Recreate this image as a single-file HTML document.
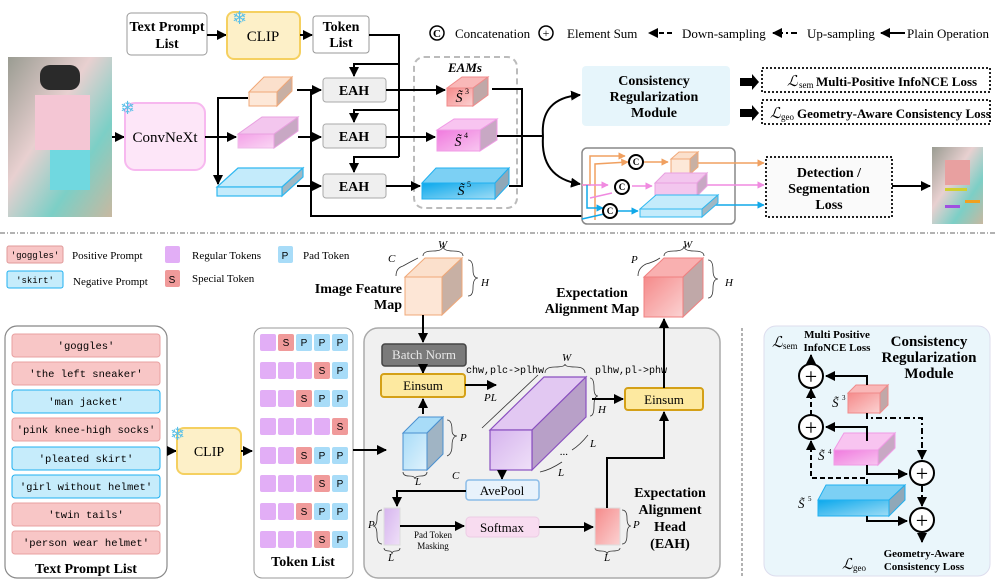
<!DOCTYPE html>
<html><head><meta charset="utf-8"><style>
html,body{margin:0;padding:0;background:#fff;}
svg{display:block;font-family:"Liberation Serif",serif;}
.b{font-weight:bold;}
.m{font-family:"Liberation Mono",monospace;}
</style></head><body>
<svg width="997" height="584" viewBox="0 0 997 584" xmlns="http://www.w3.org/2000/svg">
<defs>
<marker id="a" viewBox="0 0 10 10" refX="9" refY="5" markerWidth="5" markerHeight="5" orient="auto"><path d="M0,0L10,5L0,10z" fill="#000"/></marker>
<marker id="ao" viewBox="0 0 10 10" refX="9" refY="5" markerWidth="5" markerHeight="5" orient="auto"><path d="M0,0L10,5L0,10z" fill="#f0a060"/></marker>
<marker id="ap" viewBox="0 0 10 10" refX="9" refY="5" markerWidth="5" markerHeight="5" orient="auto"><path d="M0,0L10,5L0,10z" fill="#f08ae0"/></marker>
<marker id="ab" viewBox="0 0 10 10" refX="9" refY="5" markerWidth="5" markerHeight="5" orient="auto"><path d="M0,0L10,5L0,10z" fill="#10a8e8"/></marker>
<linearGradient id="photo" x1="0" y1="0" x2="1" y2="1"><stop offset="0" stop-color="#9a9c92"/><stop offset="0.4" stop-color="#e8d0d0"/><stop offset="0.7" stop-color="#7ccfc6"/><stop offset="1" stop-color="#c8b8a0"/></linearGradient>
<linearGradient id="gb" x1="0" y1="0" x2="1" y2="1"><stop offset="0" stop-color="#0aa8ec"/><stop offset="1" stop-color="#9fdcf5"/></linearGradient>
<linearGradient id="gp" x1="0" y1="0" x2="1" y2="1"><stop offset="0" stop-color="#f07ade"/><stop offset="1" stop-color="#f8c6f0"/></linearGradient>
<linearGradient id="gr" x1="0" y1="0" x2="1" y2="1"><stop offset="0" stop-color="#f58a8a"/><stop offset="1" stop-color="#fbd2d2"/></linearGradient>
<linearGradient id="gv" x1="0" y1="0" x2="1" y2="1"><stop offset="0" stop-color="#d6b4ee"/><stop offset="1" stop-color="#efe0f8"/></linearGradient>
<linearGradient id="glb" x1="0" y1="0" x2="1" y2="1"><stop offset="0" stop-color="#a8dcf8"/><stop offset="1" stop-color="#e0f2fc"/></linearGradient>
</defs>

<!-- ================= TOP ================= -->
<rect x="8" y="57" width="104" height="160" fill="url(#photo)"/>
<rect x="40" y="65" width="40" height="25" rx="10" fill="#2a2a2a"/>
<rect x="35" y="95" width="55" height="55" fill="#f4c6d4"/>
<rect x="50" y="150" width="40" height="40" fill="#70d8e0"/>

<rect x="127" y="13" width="80" height="42" rx="4" fill="#fff" stroke="#999"/>
<text x="167" y="31" font-size="14" class="b" text-anchor="middle">Text Prompt</text>
<text x="167" y="48" font-size="14" class="b" text-anchor="middle">List</text>
<line x1="207" y1="35" x2="226" y2="35" stroke="#000" stroke-width="2" marker-end="url(#a)"/>
<rect x="227" y="12" width="73" height="47" rx="7" fill="#fdf0c8" stroke="#f5d060" stroke-width="2"/>
<text x="263" y="41" font-size="15" text-anchor="middle">CLIP</text>
<text x="232" y="24" font-size="18" fill="#5bc0e8">❄</text>
<line x1="300" y1="35" x2="312" y2="35" stroke="#000" stroke-width="2" marker-end="url(#a)"/>
<rect x="313" y="16" width="56" height="37" rx="3" fill="#fff" stroke="#999"/>
<text x="341" y="31" font-size="14" class="b" text-anchor="middle">Token</text>
<text x="341" y="47" font-size="14" class="b" text-anchor="middle">List</text>
<!-- token list routing -->
<polyline points="369,35 399,35 399,157" fill="none" stroke="#000" stroke-width="2"/>
<polyline points="399,64 354,64 354,76" fill="none" stroke="#000" stroke-width="2" marker-end="url(#a)"/>
<polyline points="399,110 354,110 354,122" fill="none" stroke="#000" stroke-width="2" marker-end="url(#a)"/>
<polyline points="399,157 354,157 354,172" fill="none" stroke="#000" stroke-width="2" marker-end="url(#a)"/>

<line x1="112" y1="137" x2="124" y2="137" stroke="#000" stroke-width="2" marker-end="url(#a)"/>
<rect x="125" y="103" width="80" height="67" rx="10" fill="#fde6f8" stroke="#f7b8ef" stroke-width="2"/>
<text x="165" y="142" font-size="15" text-anchor="middle">ConvNeXt</text>
<text x="120" y="114" font-size="18" fill="#5bc0e8">❄</text>
<line x1="205" y1="137" x2="236" y2="137" stroke="#000" stroke-width="2" marker-end="url(#a)"/>
<polyline points="248,98 218,98 218,184" fill="none" stroke="#000" stroke-width="2" marker-end="url(#a)"/>

<!-- feature cubes -->
<g stroke="#f0a878" stroke-width="1"><polygon points="249,92 264,77 292,77 277,92" fill="#fbe0cc"/><polygon points="277,92 292,77 292,91 277,106" fill="#c8b0a4"/><rect x="249" y="92" width="28" height="14" fill="#fde8d8"/></g>
<g stroke="#e8a0e0" stroke-width="1"><polygon points="238,134 262,117 298,117 274,134" fill="#f3c6ee"/><polygon points="274,134 298,117 298,131 274,148" fill="#c8a8c4"/><rect x="238" y="134" width="36" height="14" fill="url(#gp)" opacity="0.7"/></g>
<g stroke="#30b8f0" stroke-width="1.2"><polygon points="217,187 238,168 303,168 282,187" fill="#c4ebfb"/><polygon points="282,187 303,168 303,177 282,196" fill="#a0b8c4"/><rect x="217" y="187" width="65" height="9" fill="#c4ebfb"/></g>

<!-- to EAH -->
<line x1="297" y1="90" x2="321" y2="90" stroke="#000" stroke-width="2" marker-end="url(#a)"/>
<line x1="298" y1="137" x2="321" y2="137" stroke="#000" stroke-width="2" marker-end="url(#a)"/>
<line x1="297" y1="186" x2="321" y2="186" stroke="#000" stroke-width="2" marker-end="url(#a)"/>
<polyline points="311,90 311,216 582,216" fill="none" stroke="#000" stroke-width="2"/>

<g fill="#efefef" stroke="#aaa"><rect x="323" y="78" width="63" height="24" rx="3"/><rect x="323" y="124" width="63" height="24" rx="3"/><rect x="323" y="174" width="63" height="24" rx="3"/></g>
<g font-size="14" class="b" text-anchor="middle"><text x="354" y="95">EAH</text><text x="354" y="141">EAH</text><text x="354" y="191">EAH</text></g>

<rect x="414" y="57" width="103" height="151" rx="10" fill="none" stroke="#bbb" stroke-width="2" stroke-dasharray="6,4"/>
<text x="465" y="72" font-size="13" class="b" font-style="italic" text-anchor="middle">EAMs</text>
<line x1="386" y1="90" x2="445" y2="90" stroke="#000" stroke-width="2" marker-end="url(#a)"/>
<line x1="386" y1="137" x2="435" y2="137" stroke="#000" stroke-width="2" marker-end="url(#a)"/>
<line x1="386" y1="186" x2="420" y2="186" stroke="#000" stroke-width="2" marker-end="url(#a)"/>
<!-- S cubes -->
<g stroke="#f08a8a"><polygon points="447,88 462,77 488,77 473,88" fill="#f9b8b8"/><polygon points="473,88 488,77 488,95 473,106" fill="#c0a8a8"/><rect x="447" y="88" width="26" height="18" fill="url(#gr)"/></g>
<g stroke="#f09ae6"><polygon points="437,130 454,119 497,119 480,130" fill="#f8c4f0"/><polygon points="480,130 497,119 497,140 480,151" fill="#c8a8c4"/><rect x="437" y="130" width="43" height="21" fill="url(#gp)"/></g>
<g stroke="#20b0f0"><polygon points="422,183 436,168 509,168 495,183" fill="#7cd0f4"/><polygon points="495,183 509,168 509,184 495,199" fill="#90a8b8"/><rect x="422" y="183" width="73" height="16" fill="url(#gb)"/></g>
<g font-size="14" font-style="italic" text-anchor="middle"><text x="459" y="102">S̃</text><text x="458" y="146">S̃</text><text x="461" y="195">S̃</text></g>
<g font-size="8"><text x="465" y="94">3</text><text x="464" y="138">4</text><text x="467" y="187">5</text></g>

<polyline points="492,89 522,89 522,186 509,186" fill="none" stroke="#000" stroke-width="2"/>
<line x1="497" y1="136" x2="543" y2="136" stroke="#000" stroke-width="2"/>
<path d="M543,136 Q540,98 580,95" fill="none" stroke="#000" stroke-width="2" marker-end="url(#a)"/>
<path d="M543,136 Q540,178 580,184" fill="none" stroke="#000" stroke-width="2" marker-end="url(#a)"/>

<rect x="582" y="66" width="148" height="60" rx="4" fill="#e6f5fb"/>
<g font-size="14" class="b" text-anchor="middle"><text x="654" y="85">Consistency</text><text x="654" y="101">Regularization</text><text x="654" y="117">Module</text></g>

<polygon points="740,78 752,78 752,74 759,82 752,90 752,86 740,86" fill="#000"/>
<polygon points="740,109 752,109 752,105 759,113 752,121 752,117 740,117" fill="#000"/>
<rect x="762" y="68" width="228" height="24" fill="none" stroke="#222" stroke-width="2" stroke-dasharray="2,2"/>
<rect x="762" y="100" width="228" height="24" fill="none" stroke="#222" stroke-width="2" stroke-dasharray="2,2"/>
<text x="787" y="86" font-size="15" font-style="italic">ℒ</text><text x="799" y="88" font-size="9">sem</text>
<text x="816" y="86" font-size="13" class="b">Multi-Positive InfoNCE Loss</text>
<text x="770" y="118" font-size="15" font-style="italic">ℒ</text><text x="781" y="120" font-size="9">geo</text>
<text x="797" y="118" font-size="13" class="b">Geometry-Aware Consistency Loss</text>

<!-- bottom-right fusion box -->
<rect x="582" y="148" width="153" height="76" rx="5" fill="#fff" stroke="#888" stroke-width="1.5"/>
<g fill="none" stroke-width="1.5">
<polyline points="582,185 590,185 590,156 625,156" stroke="#f0a060" marker-end="url(#ao)"/>
<polyline points="595,220 595,164 628,162" stroke="#f0a060" marker-end="url(#ao)"/>
<line x1="582" y1="185" x2="608" y2="185" stroke="#f08ae0" marker-end="url(#ap)"/>
<polyline points="590,198 612,193" stroke="#f08ae0"/>
<polyline points="587,185 587,208 603,208" stroke="#10a8e8" marker-end="url(#ab)"/>
<line x1="582" y1="219" x2="604" y2="214" stroke="#10a8e8"/>
<line x1="644" y1="162" x2="668" y2="162" stroke="#f0a060" marker-end="url(#ao)"/>
<line x1="632" y1="186" x2="652" y2="186" stroke="#f08ae0" marker-end="url(#ap)"/>
<line x1="617" y1="211" x2="638" y2="211" stroke="#10a8e8" marker-end="url(#ab)"/>
<line x1="698" y1="163" x2="764" y2="163" stroke="#f0a060" marker-end="url(#ao)"/>
<line x1="707" y1="185" x2="764" y2="185" stroke="#f08ae0" marker-end="url(#ap)"/>
<line x1="712" y1="205" x2="764" y2="205" stroke="#10a8e8" marker-end="url(#ab)"/>
</g>
<g stroke="#000" stroke-width="2" fill="#fff"><circle cx="636" cy="162" r="7"/><circle cx="622" cy="187" r="7"/><circle cx="610" cy="211" r="7"/></g>
<g font-size="9" class="b" text-anchor="middle"><text x="636" y="165">C</text><text x="622" y="190">C</text><text x="610" y="214">C</text></g>
<g stroke="#f0a878"><polygon points="671,159 679,152 698,152 690,159" fill="#fbe0cc"/><polygon points="690,159 698,152 698,167 690,174" fill="#c8b0a4"/><rect x="671" y="159" width="19" height="15" fill="#fde8d8"/></g>
<g stroke="#e8a0e0"><polygon points="655,183 665,173 707,173 697,183" fill="#f3c6ee"/><polygon points="697,183 707,173 707,186 697,196" fill="#c8a8c4"/><rect x="655" y="183" width="42" height="13" fill="#f3c6ee"/></g>
<g stroke="#30b8f0"><polygon points="640,209 656,195 718,195 702,209" fill="#c4ebfb"/><polygon points="702,209 718,195 718,203 702,217" fill="#a0b8c4"/><rect x="640" y="209" width="62" height="8" fill="#c4ebfb"/></g>

<rect x="766" y="157" width="126" height="60" fill="#fafafa" stroke="#222" stroke-width="2" stroke-dasharray="2,2"/>
<g font-size="14" class="b" text-anchor="middle"><text x="829" y="177">Detection /</text><text x="829" y="193">Segmentation</text><text x="829" y="209">Loss</text></g>
<line x1="892" y1="186" x2="930" y2="186" stroke="#000" stroke-width="2" marker-end="url(#a)"/>
<rect x="932" y="147" width="51" height="77" fill="url(#photo)"/>
<rect x="945" y="160" width="25" height="25" fill="#e8a0a0"/>
<rect x="945" y="188" width="22" height="3" fill="#d0d030"/>
<rect x="945" y="205" width="15" height="3" fill="#a050e0"/>
<rect x="965" y="200" width="15" height="3" fill="#f0a020"/>

<!-- legend top -->
<g stroke="#000" stroke-width="1.5" fill="#fff"><circle cx="437" cy="33" r="7"/><circle cx="546" cy="33" r="7"/></g>
<text x="437" y="37" font-size="11" class="b" text-anchor="middle">C</text>
<text x="546" y="37" font-size="12" text-anchor="middle">+</text>
<g font-size="13"><text x="455" y="38">Concatenation</text><text x="567" y="38">Element Sum</text><text x="682" y="38">Down-sampling</text><text x="807" y="38">Up-sampling</text><text x="907" y="38">Plain Operation</text></g>
<line x1="672" y1="33" x2="649" y2="33" stroke="#000" stroke-width="2" stroke-dasharray="5,3" marker-end="url(#a)"/>
<line x1="797" y1="33" x2="773" y2="33" stroke="#000" stroke-width="2" stroke-dasharray="6,3,2,3" marker-end="url(#a)"/>
<line x1="905" y1="33" x2="881" y2="33" stroke="#000" stroke-width="2" marker-end="url(#a)"/>

<line x1="0" y1="233" x2="997" y2="233" stroke="#666" stroke-width="1" stroke-dasharray="5,2,1,2"/>

<!-- ================= BOTTOM LEFT ================= -->
<rect x="7" y="246" width="56" height="17" rx="2" fill="#f8c6c6" stroke="#e09a9a"/>
<text x="35" y="258" font-size="9" class="m" text-anchor="middle">'goggles'</text>
<text x="72" y="259" font-size="11">Positive Prompt</text>
<rect x="7" y="271" width="56" height="17" rx="2" fill="#c6ecfb" stroke="#20b0f0"/>
<text x="35" y="283" font-size="9" class="m" text-anchor="middle">'skirt'</text>
<text x="73" y="285" font-size="11">Negative Prompt</text>
<rect x="165" y="246" width="15" height="17" rx="2" fill="#e2aef6"/>
<text x="192" y="259" font-size="11">Regular Tokens</text>
<rect x="165" y="270" width="15" height="17" rx="2" fill="#f09a9a"/>
<text x="172" y="283" font-size="10" font-family="Liberation Sans" text-anchor="middle">S</text>
<text x="192" y="282" font-size="11">Special Token</text>
<rect x="278" y="246" width="15" height="17" rx="2" fill="#a8dcf8"/>
<text x="285" y="259" font-size="10" font-family="Liberation Sans" text-anchor="middle">P</text>
<text x="303" y="259" font-size="11">Pad Token</text>

<rect x="5" y="326" width="162" height="252" rx="12" fill="#fff" stroke="#888" stroke-width="1.2"/>
<g stroke-width="1">
<rect x="12" y="334" width="148" height="23" rx="3" fill="#f8c6c6" stroke="#e8a0a0"/>
<rect x="12" y="362" width="148" height="23" rx="3" fill="#f8c6c6" stroke="#e8a0a0"/>
<rect x="12" y="390" width="148" height="23" rx="3" fill="#c6ecfb" stroke="#20b0f0"/>
<rect x="12" y="418" width="148" height="23" rx="3" fill="#f8c6c6" stroke="#e8a0a0"/>
<rect x="12" y="447" width="148" height="23" rx="3" fill="#c6ecfb" stroke="#20b0f0"/>
<rect x="12" y="475" width="148" height="23" rx="3" fill="#c6ecfb" stroke="#20b0f0"/>
<rect x="12" y="503" width="148" height="23" rx="3" fill="#f8c6c6" stroke="#e8a0a0"/>
<rect x="12" y="531" width="148" height="23" rx="3" fill="#f8c6c6" stroke="#e8a0a0"/>
</g>
<g font-size="10.5" class="m" text-anchor="middle">
<text x="86" y="349">'goggles'</text><text x="86" y="377">'the left sneaker'</text><text x="86" y="405">'man jacket'</text><text x="86" y="433">'pink knee-high socks'</text><text x="86" y="462">'pleated skirt'</text><text x="86" y="490">'girl without helmet'</text><text x="86" y="518">'twin tails'</text><text x="86" y="546">'person wear helmet'</text>
</g>
<text x="86" y="573" font-size="14" class="b" text-anchor="middle">Text Prompt List</text>
<line x1="168" y1="451" x2="176" y2="451" stroke="#000" stroke-width="2" marker-end="url(#a)"/>
<rect x="177" y="428" width="64" height="46" rx="7" fill="#fdf0c8" stroke="#f5d060" stroke-width="2"/>
<text x="209" y="456" font-size="14" text-anchor="middle">CLIP</text>
<text x="170" y="440" font-size="18" fill="#5bc0e8">❄</text>
<line x1="241" y1="451" x2="252" y2="451" stroke="#000" stroke-width="2" marker-end="url(#a)"/>

<rect x="254" y="328" width="99" height="250" rx="8" fill="#fff" stroke="#999"/>
<g font-size="10" font-family="Liberation Sans" text-anchor="middle">
<!-- rows: tokens -->
<g fill="#e2aef6">
<rect x="260" y="334" width="16" height="17" rx="2"/>
<rect x="260" y="362" width="16" height="17" rx="2"/><rect x="278" y="362" width="16" height="17" rx="2"/><rect x="296" y="362" width="16" height="17" rx="2"/>
<rect x="260" y="390" width="16" height="17" rx="2"/><rect x="278" y="390" width="16" height="17" rx="2"/>
<rect x="260" y="418" width="16" height="17" rx="2"/><rect x="278" y="418" width="16" height="17" rx="2"/><rect x="296" y="418" width="16" height="17" rx="2"/><rect x="314" y="418" width="16" height="17" rx="2"/>
<rect x="260" y="447" width="16" height="17" rx="2"/><rect x="278" y="447" width="16" height="17" rx="2"/>
<rect x="260" y="475" width="16" height="17" rx="2"/><rect x="278" y="475" width="16" height="17" rx="2"/><rect x="296" y="475" width="16" height="17" rx="2"/>
<rect x="260" y="503" width="16" height="17" rx="2"/><rect x="278" y="503" width="16" height="17" rx="2"/>
<rect x="260" y="531" width="16" height="17" rx="2"/><rect x="278" y="531" width="16" height="17" rx="2"/><rect x="296" y="531" width="16" height="17" rx="2"/>
</g>
<g fill="#f09a9a">
<rect x="278" y="334" width="16" height="17" rx="2"/><rect x="314" y="362" width="16" height="17" rx="2"/><rect x="296" y="390" width="16" height="17" rx="2"/><rect x="332" y="418" width="16" height="17" rx="2"/><rect x="296" y="447" width="16" height="17" rx="2"/><rect x="314" y="475" width="16" height="17" rx="2"/><rect x="296" y="503" width="16" height="17" rx="2"/><rect x="314" y="531" width="16" height="17" rx="2"/>
</g>
<g fill="#a8dcf8">
<rect x="296" y="334" width="16" height="17" rx="2"/><rect x="314" y="334" width="16" height="17" rx="2"/><rect x="332" y="334" width="16" height="17" rx="2"/>
<rect x="332" y="362" width="16" height="17" rx="2"/>
<rect x="314" y="390" width="16" height="17" rx="2"/><rect x="332" y="390" width="16" height="17" rx="2"/>
<rect x="314" y="447" width="16" height="17" rx="2"/><rect x="332" y="447" width="16" height="17" rx="2"/>
<rect x="332" y="475" width="16" height="17" rx="2"/>
<rect x="314" y="503" width="16" height="17" rx="2"/><rect x="332" y="503" width="16" height="17" rx="2"/>
<rect x="332" y="531" width="16" height="17" rx="2"/>
</g>
<text x="286" y="346">S</text><text x="304" y="346">P</text><text x="322" y="346">P</text><text x="340" y="346">P</text>
<text x="322" y="374">S</text><text x="340" y="374">P</text>
<text x="304" y="402">S</text><text x="322" y="402">P</text><text x="340" y="402">P</text>
<text x="340" y="430">S</text>
<text x="304" y="459">S</text><text x="322" y="459">P</text><text x="340" y="459">P</text>
<text x="322" y="487">S</text><text x="340" y="487">P</text>
<text x="304" y="515">S</text><text x="322" y="515">P</text><text x="340" y="515">P</text>
<text x="322" y="543">S</text><text x="340" y="543">P</text>
</g>
<text x="303" y="566" font-size="14" class="b" text-anchor="middle">Token List</text>

<!-- EAH big -->
<rect x="364" y="328" width="356" height="250" rx="14" fill="#f0f0f0" stroke="#aaa" stroke-width="1.5"/>
<line x1="353" y1="450" x2="386" y2="450" stroke="#000" stroke-width="2" marker-end="url(#a)"/>

<!-- image feature cube -->
<g stroke="#f0a878"><polygon points="405,277 425,258 462,258 442,277" fill="#fbe0cc"/><polygon points="442,277 462,258 462,296 442,315" fill="#c8b0a4"/><rect x="405" y="277" width="37" height="38" fill="#fde6d6"/></g>
<g font-size="11" font-style="italic"><text x="388" y="262">C</text><text x="438" y="248">W</text><text x="481" y="286">H</text><text x="462" y="383" font-size="0"> </text></g>
<path d="M423,256 Q423,251 433,251 Q443,251 443,246 Q443,251 453,251 Q463,251 463,256" fill="none" stroke="#333" stroke-width="0.8"/>
<path d="M468,260 Q473,260 473,270 Q473,278 478,278 Q473,278 473,288 Q473,296 468,296" fill="none" stroke="#333" stroke-width="0.8"/>
<path d="M396,276 Q396,268 403,266 M403,266 Q410,262 418,258" fill="none" stroke="#333" stroke-width="0.8"/>
<g font-size="14" class="b" text-anchor="end"><text x="402" y="293">Image Feature</text><text x="402" y="309">Map</text></g>
<line x1="423" y1="315" x2="423" y2="342" stroke="#000" stroke-width="2" marker-end="url(#a)"/>
<rect x="382" y="344" width="84" height="22" rx="3" fill="#7a7a7a" stroke="#444" stroke-width="1.5"/>
<text x="424" y="359" font-size="13" fill="#e8e8e8" text-anchor="middle">Batch Norm</text>
<line x1="423" y1="366" x2="423" y2="373" stroke="#000" stroke-width="2" marker-end="url(#a)"/>
<rect x="381" y="374" width="84" height="23" rx="3" fill="#fde9a0" stroke="#d4a017" stroke-width="2"/>
<text x="423" y="390" font-size="13" text-anchor="middle">Einsum</text>
<text x="466" y="373" font-size="10" class="m">chw,plc-&gt;plhw</text>
<line x1="465" y1="385" x2="496" y2="385" stroke="#000" stroke-width="2" marker-end="url(#a)"/>
<text x="484" y="401" font-size="11" font-style="italic">PL</text>
<line x1="423" y1="414" x2="423" y2="399" stroke="#000" stroke-width="2" marker-end="url(#a)"/>
<!-- blue small cube -->
<g stroke="#4a90d0"><polygon points="403,433 419,417 443,417 427,433" fill="#a8dcf8"/><polygon points="427,433 443,417 443,454 427,470" fill="#a0b4c4"/><rect x="403" y="433" width="24" height="37" fill="url(#glb)"/></g>
<g font-size="11" font-style="italic"><text x="460" y="441">P</text><text x="415" y="485">L</text><text x="452" y="479">C</text></g>
<path d="M447,420 Q452,420 452,430 Q452,436 457,436 Q452,436 452,446 Q452,454 447,456" fill="none" stroke="#333" stroke-width="0.8"/>
<path d="M403,472 Q403,476 409,476 Q415,476 415,479 Q415,476 421,476 Q427,476 427,472" fill="none" stroke="#333" stroke-width="0.8"/>
<!-- purple long cube -->
<g stroke="#8a50c0" stroke-width="1.2"><polygon points="490,430 544,377 586,377 532,430" fill="#e2c8f2"/><polygon points="532,430 586,377 586,417 532,470" fill="#b8a0c8"/><rect x="490" y="430" width="42" height="40" fill="url(#gv)"/></g>
<g font-size="11" font-style="italic"><text x="562" y="361">W</text><text x="598" y="413">H</text><text x="590" y="447">L</text><text x="558" y="476">L</text><text x="560" y="455">...</text></g>
<path d="M545,373 Q545,367 555,367 Q565,367 565,364 Q565,367 575,367 Q585,367 585,373" fill="none" stroke="#333" stroke-width="0.8"/>
<path d="M590,378 Q594,378 594,388 Q594,396 598,396 Q594,396 594,406 Q594,416 590,416" fill="none" stroke="#333" stroke-width="0.8"/>
<path d="M482,428 L538,375" fill="none" stroke="#333" stroke-width="0.8"/>
<path d="M572,450 Q580,445 588,435" fill="none" stroke="#333" stroke-width="0.8"/>
<path d="M540,472 Q550,470 562,462" fill="none" stroke="#333" stroke-width="0.8"/>
<text x="595" y="373" font-size="10" class="m">plhw,pl-&gt;phw</text>
<line x1="592" y1="399" x2="623" y2="399" stroke="#000" stroke-width="2" marker-end="url(#a)"/>
<rect x="625" y="388" width="78" height="22" rx="3" fill="#fde9a0" stroke="#d4a017" stroke-width="2"/>
<text x="664" y="404" font-size="13" text-anchor="middle">Einsum</text>
<line x1="664" y1="388" x2="664" y2="319" stroke="#000" stroke-width="2" marker-end="url(#a)"/>
<!-- EAM cube -->
<g stroke="#f08080"><polygon points="644,277 664,258 703,258 683,277" fill="#f9b0b0"/><polygon points="683,277 703,258 703,298 683,317" fill="#c0a8a8"/><rect x="644" y="277" width="39" height="40" fill="url(#gr)"/></g>
<g font-size="11" font-style="italic"><text x="631" y="263">P</text><text x="683" y="248">W</text><text x="725" y="286">H</text></g>
<path d="M664,256 Q664,251 674,251 Q684,251 684,246 Q684,251 694,251 Q704,251 704,256" fill="none" stroke="#333" stroke-width="0.8"/>
<path d="M708,260 Q713,260 713,270 Q713,279 718,279 Q713,279 713,288 Q713,298 708,298" fill="none" stroke="#333" stroke-width="0.8"/>
<path d="M638,276 Q638,268 646,264 Q654,262 660,258" fill="none" stroke="#333" stroke-width="0.8"/>
<g font-size="14" class="b" text-anchor="middle"><text x="592" y="297">Expectation</text><text x="592" y="313">Alignment Map</text></g>

<line x1="502" y1="470" x2="502" y2="479" stroke="#000" stroke-width="2" marker-end="url(#a)"/>
<rect x="466" y="480" width="73" height="20" rx="3" fill="#e8f2fb" stroke="#8bbce8" stroke-width="1.5"/>
<text x="502" y="495" font-size="13" text-anchor="middle">AvePool</text>
<polyline points="466,491 397,491 397,506" fill="none" stroke="#000" stroke-width="2" marker-end="url(#a)"/>
<rect x="384" y="508" width="16" height="37" fill="url(#gv)" stroke="#ddd"/>
<g font-size="11" font-style="italic"><text x="368" y="528">P</text><text x="388" y="561">L</text><text x="633" y="528">P</text><text x="604" y="561">L</text></g>
<path d="M382,510 Q377,510 377,518 Q377,526 373,526 Q377,526 377,535 Q377,544 382,544" fill="none" stroke="#333" stroke-width="0.8"/>
<path d="M384,548 Q384,551 389,551 Q392,551 392,554 Q392,551 396,551 Q400,551 400,548" fill="none" stroke="#333" stroke-width="0.8"/>
<line x1="400" y1="526" x2="464" y2="526" stroke="#000" stroke-width="2" marker-end="url(#a)"/>
<g font-size="9" text-anchor="middle"><text x="433" y="538">Pad Token</text><text x="433" y="549">Masking</text></g>
<rect x="466" y="517" width="73" height="20" rx="4" fill="#f8dcf0" stroke="#eccbe4"/>
<text x="502" y="532" font-size="13" text-anchor="middle">Softmax</text>
<line x1="539" y1="527" x2="593" y2="527" stroke="#000" stroke-width="2" marker-end="url(#a)"/>
<rect x="595" y="508" width="25" height="37" fill="url(#gr)" stroke="#ddd"/>
<path d="M622,510 Q627,510 627,518 Q627,526 631,526 Q627,526 627,535 Q627,544 622,544" fill="none" stroke="#333" stroke-width="0.8"/>
<path d="M595,548 Q595,551 601,551 Q607,551 607,554 Q607,551 613,551 Q620,551 620,548" fill="none" stroke="#333" stroke-width="0.8"/>
<polyline points="607,508 607,458 664,458 664,412" fill="none" stroke="#000" stroke-width="2" marker-end="url(#a)"/>
<g font-size="14" class="b" text-anchor="middle"><text x="670" y="497">Expectation</text><text x="670" y="514">Alignment</text><text x="670" y="531">Head</text><text x="670" y="548">(EAH)</text></g>

<!-- ================= BOTTOM RIGHT ================= -->
<line x1="742" y1="328" x2="742" y2="578" stroke="#666" stroke-dasharray="3,2"/>
<rect x="764" y="326" width="226" height="250" rx="12" fill="#eaf6fb" stroke="#dde"/>
<g font-size="15" class="b" text-anchor="middle"><text x="929" y="346">Consistency</text><text x="929" y="362">Regularization</text><text x="929" y="378">Module</text></g>
<text x="772" y="347" font-size="15" font-style="italic">ℒ</text><text x="783" y="349" font-size="9">sem</text>
<g font-size="11" class="b" text-anchor="middle"><text x="837" y="338">Multi Positive</text><text x="837" y="351">InfoNCE Loss</text></g>
<g font-size="11" class="b" text-anchor="middle"><text x="924" y="557">Geometry-Aware</text><text x="924" y="570">Consistency Loss</text></g>
<text x="842" y="569" font-size="15" font-style="italic">ℒ</text><text x="853" y="571" font-size="9">geo</text>
<!-- cubes -->
<g stroke="#f08a8a"><polygon points="848,393 856,385 888,385 880,393" fill="#f9b8b8"/><polygon points="880,393 888,385 888,405 880,413" fill="#c0a8a8"/><rect x="848" y="393" width="32" height="20" fill="url(#gr)"/></g>
<g stroke="#f09ae6"><polygon points="834,450 844,433 895,433 878,450" fill="#f8c4f0"/><polygon points="878,450 895,433 895,448 878,465" fill="#c8a8c4"/><rect x="834" y="450" width="44" height="15" fill="url(#gp)"/></g>
<g stroke="#20b0f0"><polygon points="818,500 826,485 905,485 889,500" fill="#7cd0f4"/><polygon points="889,500 905,485 905,500 889,516" fill="#90a8b8"/><rect x="818" y="500" width="71" height="16" fill="url(#gb)"/></g>
<g font-size="13" font-style="italic"><text x="832" y="407">S̃</text><text x="818" y="460">S̃</text><text x="798" y="508">S̃</text></g>
<g font-size="7"><text x="842" y="400">3</text><text x="828" y="454">4</text><text x="808" y="501">5</text></g>
<!-- lines -->
<g fill="none" stroke="#000" stroke-width="2">
<polyline points="867,385 867,376 826,376" marker-end="url(#a)"/>
<polyline points="867,441 867,427 826,427" marker-end="url(#a)"/>
<polyline points="867,465 867,474 907,474" marker-end="url(#a)"/>
<polyline points="867,516 867,521 907,521" marker-end="url(#a)"/>
<line x1="811" y1="363" x2="811" y2="355" marker-end="url(#a)"/>
<line x1="811" y1="415" x2="811" y2="389" stroke-dasharray="5,3" marker-end="url(#a)"/>
<polyline points="867,484 867,478 811,478 811,441" stroke-dasharray="5,3" marker-end="url(#a)"/>
<polyline points="867,413 867,418 922,418 922,459" stroke-dasharray="6,3,2,3" marker-end="url(#a)"/>
<line x1="922" y1="486" x2="922" y2="506" stroke-dasharray="6,3,2,3" marker-end="url(#a)"/>
<line x1="922" y1="533" x2="922" y2="542" marker-end="url(#a)"/>
</g>
<g stroke="#000" stroke-width="2" fill="#fff"><circle cx="811" cy="376" r="12"/><circle cx="811" cy="427" r="12"/><circle cx="922" cy="473" r="12"/><circle cx="922" cy="520" r="12"/></g>
<g font-size="22" text-anchor="middle"><text x="811" y="384">+</text><text x="811" y="435">+</text><text x="922" y="481">+</text><text x="922" y="528">+</text></g>
</svg>
</body></html>
